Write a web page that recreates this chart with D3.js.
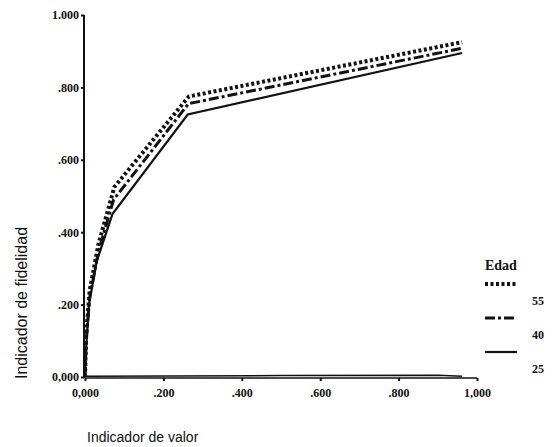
<!DOCTYPE html>
<html>
<head>
<meta charset="utf-8">
<script src="https://cdn.jsdelivr.net/npm/d3@7"></script>
<style>
  body { margin: 0; background: #fff; }
  svg { display: block; }
  .tick text { font-family: "Liberation Serif", "DejaVu Serif", serif; font-size: 12px; font-weight: bold; fill: #111; }
</style>
</head>
<body>
<svg id="chart"></svg>
<script>
// values (x = Indicador de valor, y = Indicador de fidelidad)
const xTicks = [0, 0.2, 0.4, 0.6, 0.8, 1.0];
const xTickLabels = ["0,000", ".200", ".400", ".600", ".800", "1,000"];
const yTicks = [0, 0.2, 0.4, 0.6, 0.8, 1.0];
const yTickLabels = ["0,000", ".200", ".400", ".600", ".800", "1.000"];

const edad55 = [[0, 0], [0.003, 0.12], [0.012, 0.24], [0.035, 0.37], [0.075, 0.525], [0.265, 0.775], [0.962, 0.925]];
const edad40 = [[0, 0], [0.003, 0.10], [0.012, 0.22], [0.035, 0.35], [0.073, 0.49], [0.264, 0.755], [0.962, 0.908]];
const edad25 = [[0, 0], [0.003, 0.08], [0.010, 0.20], [0.030, 0.32], [0.070, 0.45], [0.262, 0.725], [0.962, 0.895]];
const baseLine = [[0, 0.002], [0.5, 0.004], [0.9, 0.005], [0.962, 0.002]];

const seriesNames = ["55", "40", "25"];

const width = 552, height = 447;
const margin = {top: 15, right: 75, bottom: 69, left: 85};

const svg = d3.select('#chart')
    .attr('width', width)
    .attr('height', height);

const xScale = d3.scaleLinear().domain([0, 1]).range([margin.left, width - margin.right]);
const yScale = d3.scaleLinear().domain([0, 1]).range([377, margin.top]);

// styles per series
const styles = {
    '55': {dash: '3,2.5', width: 4},
    '40': {dash: '10,3,3,3', width: 3},
    '25': {dash: null, width: 2.2}
};

// axes
const xAxis = d3.axisBottom(xScale)
    .tickValues(xTicks)
    .tickSize(3)
    .tickFormat((d, i) => xTickLabels[i]);

const yAxis = d3.axisLeft(yScale)
    .tickValues(yTicks)
    .tickSize(3)
    .tickFormat((d, i) => yTickLabels[i]);

const xAxisG = svg.append('g')
    .attr('class', 'axis x-axis')
    .attr('transform', 'translate(0,378)')
    .call(xAxis);
xAxisG.select('.domain').attr('d', `M${xScale(0)},0H${xScale(1)}`).attr('stroke', '#111').attr('stroke-width', 1.5);
xAxisG.selectAll('.tick line').attr('stroke', '#111').attr('stroke-width', 2);
xAxisG.selectAll('.tick text').attr('dy', '1.05em');

const yAxisG = svg.append('g')
    .attr('class', 'axis y-axis')
    .attr('transform', `translate(${margin.left - 1},0)`)
    .call(yAxis);
yAxisG.select('.domain').attr('d', `M0,${yScale(1)}V378`).attr('stroke', '#111').attr('stroke-width', 2);
yAxisG.selectAll('.tick line').attr('stroke', '#111').attr('stroke-width', 2);
yAxisG.selectAll('.tick text').attr('x', -5);

// lines
const line = d3.line()
    .x(d => xScale(d[0]))
    .y(d => yScale(d[1]));

svg.append('path')
    .datum(baseLine)
    .attr('fill', 'none')
    .attr('stroke', '#111')
    .attr('stroke-width', 1.5)
    .attr('d', line);

const allSeries = [edad55, edad40, edad25];
allSeries.forEach((s, i) => {
    const st = styles[seriesNames[i]];
    svg.append('path')
        .datum(s)
        .attr('fill', 'none')
        .attr('stroke', '#111')
        .attr('stroke-width', st.width)
        .attr('stroke-dasharray', st.dash)
        .attr('d', line);
});

// axis titles
svg.append('text')
    .attr('transform', `translate(27,303) rotate(-90)`)
    .attr('text-anchor', 'middle')
    .attr('font-family', '"Liberation Sans", Arial, sans-serif')
    .attr('font-size', 16)
    .attr('fill', '#111')
    .text('Indicador de fidelidad');

svg.append('text')
    .attr('x', 87)
    .attr('y', 442)
    .attr('font-family', '"Liberation Sans", Arial, sans-serif')
    .attr('font-size', 14)
    .attr('fill', '#111')
    .text('Indicador de valor');

// legend
const legend = svg.append('g').attr('transform', 'translate(485,0)');
legend.append('text')
    .attr('x', 0)
    .attr('y', 270)
    .attr('font-family', '"Liberation Serif", serif')
    .attr('font-size', 14)
    .attr('font-weight', 'bold')
    .attr('fill', '#111')
    .text('Edad');

seriesNames.forEach((name, i) => {
    const st = styles[name];
    const ly = 284 + i * 34;
    legend.append('line')
        .attr('x1', 0).attr('x2', 32)
        .attr('y1', ly).attr('y2', ly)
        .attr('stroke', '#111')
        .attr('stroke-width', st.width)
        .attr('stroke-dasharray', st.dash);
    legend.append('text')
        .attr('x', 47)
        .attr('y', ly + 21)
        .attr('font-family', '"Liberation Serif", serif')
        .attr('font-size', 12)
        .attr('font-weight', 'bold')
        .attr('fill', '#111')
        .text(name);
});
</script>
</body>
</html>
